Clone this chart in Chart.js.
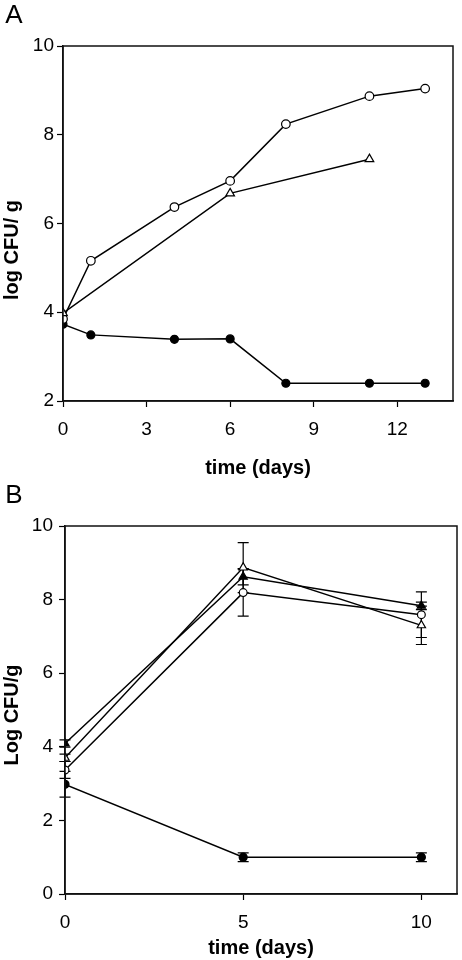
<!DOCTYPE html>
<html>
<head>
<meta charset="utf-8">
<script src="https://cdn.jsdelivr.net/npm/chart.js@4/dist/chart.umd.min.js"></script>
<style>
  html, body { margin: 0; padding: 0; background: #fff; }
  #wrap { position: relative; width: 462px; height: 960px; }
  canvas { position: absolute; left: 0; }
  #cA { top: 0; }
  #cB { top: 480px; }
</style>
</head>
<body>
<div id="wrap">
  <canvas id="cA" width="462" height="480"></canvas>
  <canvas id="cB" width="462" height="480"></canvas>
</div>
<script>
// ---------- Panel A data ----------
const panelALabel = 'A';
const daysA = [0, 1, 4, 6, 8, 11, 13];
const aOpenCircle = [3.85, 5.16, 6.37, 6.96, 8.24, 8.87, 9.04];
const aFilledCircle = [3.73, 3.49, 3.39, 3.40, 2.40, 2.40, 2.40];
const daysATriangle = [0, 6, 11];
const aOpenTriangle = [3.98, 6.68, 7.45];
const xTicksA = [0, 3, 6, 9, 12];
const yTicksA = [2, 4, 6, 8, 10];
const xTitleA = 'time (days)';
const yTitleA = 'log CFU/ g';

// ---------- Panel B data ----------
const panelBLabel = 'B';
const daysB = [0, 5, 10];
const bFilledTriangle = [4.09, 8.62, 7.83];
const bFilledTriangleErr = [0.10, 0.22, 0.10];
const bOpenTriangle = [3.70, 8.87, 7.30];
const bOpenTriangleErr = [0.10, 0.68, 0.52];
const bOpenCircle = [3.37, 8.19, 7.59];
const bOpenCircleErr = [0.23, 0.64, 0.62];
const bFilledCircle = [2.98, 1.00, 1.00];
const bFilledCircleErr = [0.35, 0.12, 0.12];
const xTicksB = [0, 5, 10];
const yTicksB = [0, 2, 4, 6, 8, 10];
const xTitleB = 'time (days)';
const yTitleB = 'Log CFU/g';

const FAM = '"Liberation Sans", Arial, Helvetica, sans-serif';
const INK = '#000';

function pts(xs, ys) { return xs.map((x, i) => ({ x: x, y: ys[i] })); }

function series(xs, ys, style, filled, radius, errs) {
  return {
    data: pts(xs, ys),
    errors: errs || null,
    borderColor: INK,
    borderWidth: 1.5,
    backgroundColor: filled ? INK : '#fff',
    pointStyle: style,
    pointRadius: radius,
    pointBorderWidth: 1.2,
    pointBorderColor: INK,
    pointBackgroundColor: filled ? INK : '#fff',
    tension: 0,
    fill: false
  };
}

// frame + free text + error bars
const framePlugin = {
  id: 'frame',
  afterDatasetsDraw(chart) {
    const a = chart.chartArea, ctx = chart.ctx;
    ctx.save();
    ctx.strokeStyle = '#111';
    ctx.lineWidth = 1.5;
    ctx.strokeRect(a.left, a.top, a.right - a.left, a.bottom - a.top);
    ctx.restore();
  },
  afterDraw(chart) {
    const items = chart.options.plugins.frame.texts || [];
    const ctx = chart.ctx;
    items.forEach(t => {
      ctx.save();
      ctx.fillStyle = INK;
      ctx.font = t.font;
      ctx.textAlign = 'center';
      ctx.textBaseline = 'middle';
      ctx.translate(t.x, t.y);
      if (t.rot) ctx.rotate(t.rot);
      ctx.fillText(t.text, 0, 0);
      ctx.restore();
    });
  }
};

const errorBarPlugin = {
  id: 'errbars',
  beforeDatasetsDraw(chart) {
    const ctx = chart.ctx;
    const ys = chart.scales.y, xs = chart.scales.x;
    ctx.save();
    ctx.strokeStyle = INK;
    ctx.lineWidth = 1.2;
    chart.data.datasets.forEach(ds => {
      if (!ds.errors) return;
      ds.data.forEach((p, i) => {
        const e = ds.errors[i];
        if (!e) return;
        const px = xs.getPixelForValue(p.x);
        const hi = ys.getPixelForValue(p.y + e);
        const lo = ys.getPixelForValue(p.y - e);
        ctx.beginPath();
        ctx.moveTo(px, hi); ctx.lineTo(px, lo);
        ctx.moveTo(px - 5.5, hi); ctx.lineTo(px + 5.5, hi);
        ctx.moveTo(px - 5.5, lo); ctx.lineTo(px + 5.5, lo);
        ctx.stroke();
      });
    });
    ctx.restore();
  }
};

function axisCommon(ticksArr, min, max, fixed, isX, tickPad) {
  return {
    type: 'linear',
    min: min,
    max: max,
    afterFit: s => { if (isX) s.height = fixed; else s.width = fixed; },
    afterBuildTicks: s => { s.ticks = ticksArr.map(v => ({ value: v })); },
    ticks: {
      color: INK,
      font: { family: FAM, size: 19 },
      padding: tickPad,
      maxRotation: 0,
      autoSkip: false
    },
    grid: {
      drawOnChartArea: false,
      drawTicks: true,
      tickLength: 6,
      tickWidth: 1.2,
      color: INK
    },
    border: { display: true, color: '#111', width: 1.5 },
    title: { display: false }
  };
}

function makeChart(id, datasets, cfg) {
  const xScale = axisCommon(cfg.xTicks, cfg.xMin, cfg.xMax, cfg.xH, true, 11.5);
  const yScale = axisCommon(cfg.yTicks, cfg.yMin, cfg.yMax, cfg.yW, false, cfg.yPad);
  xScale.title = {
    display: true, text: cfg.xTitle, color: INK,
    font: { family: FAM, size: 20, weight: 'bold' },
    padding: { top: cfg.xTitlePad, bottom: 0 }
  };
  return new Chart(document.getElementById(id), {
    type: 'line',
    data: { datasets: datasets },
    options: {
      responsive: false,
      animation: false,
      devicePixelRatio: 1,
      layout: { autoPadding: false, padding: { left: 0, right: cfg.padR, top: 46, bottom: 0 } },
      plugins: {
        legend: { display: false },
        tooltip: { enabled: false },
        frame: { texts: cfg.texts }
      },
      scales: { x: xScale, y: yScale }
    },
    plugins: [errorBarPlugin, framePlugin]
  });
}

makeChart('cA', [
  series(daysATriangle, aOpenTriangle, 'triangle', false, 5),
  series(daysA, aOpenCircle, 'circle', false, 4.3),
  series(daysA, aFilledCircle, 'circle', true, 4)
], {
  xTicks: xTicksA, yTicks: yTicksA, xMin: 0, xMax: 14, yMin: 2, yMax: 10,
  xH: 79, yW: 63, yPad: 3, padR: 9, xTitle: xTitleA, xTitlePad: 8,
  texts: [
    { text: panelALabel, x: 14, y: 16, font: '26px ' + FAM },
    { text: yTitleA, x: 12, y: 250, rot: -Math.PI / 2, font: 'bold 20px ' + FAM }
  ]
});

makeChart('cB', [
  series(daysB, bFilledTriangle, 'triangle', true, 4.8, bFilledTriangleErr),
  series(daysB, bOpenTriangle, 'triangle', false, 4.8, bOpenTriangleErr),
  series(daysB, bOpenCircle, 'circle', false, 3.9, bOpenCircleErr),
  series(daysB, bFilledCircle, 'circle', true, 4, bFilledCircleErr)
], {
  xTicks: xTicksB, yTicks: yTicksB, xMin: 0, xMax: 11, yMin: 0, yMax: 10,
  xH: 66, yW: 65, yPad: 6, padR: 5, xTitle: xTitleB, xTitlePad: 1,
  texts: [
    { text: panelBLabel, x: 14, y: 16, font: '26px ' + FAM },
    { text: yTitleB, x: 12, y: 235, rot: -Math.PI / 2, font: 'bold 20px ' + FAM }
  ]
});
</script>
</body>
</html>
